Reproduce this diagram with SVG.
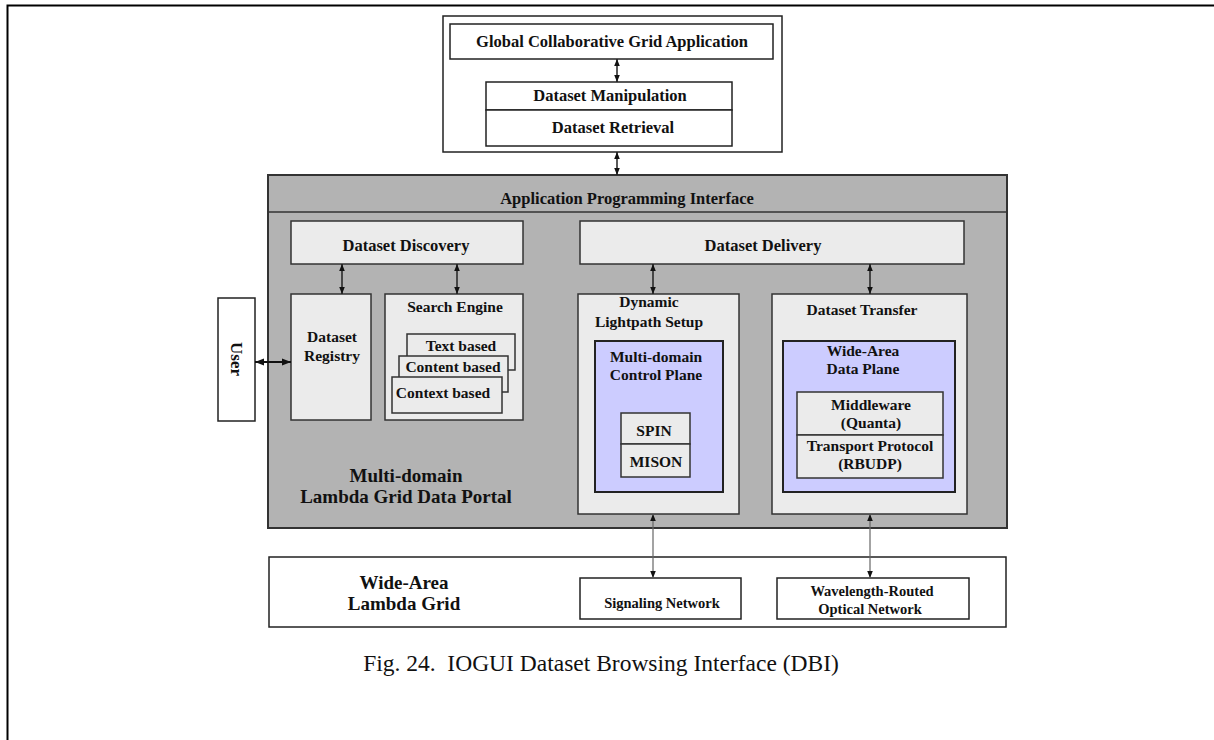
<svg xmlns="http://www.w3.org/2000/svg" width="1214" height="740" viewBox="0 0 1214 740">
<style>
.t{font-family:"Liberation Serif","Times New Roman",serif;font-weight:bold;fill:#111;text-anchor:middle}
.s16{font-size:16.5px}
.s15{font-size:15.5px}
.s14{font-size:14.5px}
.s19{font-size:19px}
.cap{font-family:"Liberation Serif","Times New Roman",serif;font-size:23.5px;fill:#111;text-anchor:middle}
.wbox{fill:#fff;stroke:#222;stroke-width:1.5}
.lbox{fill:#ebebeb;stroke:#333;stroke-width:1.5}
.pbox{fill:#ccccff;stroke:#222;stroke-width:2}
.gbox{fill:#b3b3b3;stroke:#333;stroke-width:2}
.arr{stroke:#222;stroke-width:1.5;fill:none;marker-start:url(#ah);marker-end:url(#ah)}
.arrl{stroke:#666;stroke-width:1.2;fill:none;marker-start:url(#ah);marker-end:url(#ah)}
.arrb{stroke:#111;stroke-width:2.2;fill:none;marker-start:url(#ahb);marker-end:url(#ahb)}
</style>
<defs>
<marker id="ah" viewBox="0 0 10 10" refX="10" refY="5" markerWidth="7" markerHeight="7" orient="auto-start-reverse" markerUnits="userSpaceOnUse"><path d="M0,1 L10,5 L0,9 z" fill="#111"/></marker>
<marker id="ahb" viewBox="0 0 10 10" refX="10" refY="5" markerWidth="9" markerHeight="9" orient="auto-start-reverse" markerUnits="userSpaceOnUse"><path d="M0,1 L10,5 L0,9 z" fill="#111"/></marker>
</defs>
<rect width="1214" height="740" fill="#fff"/>
<path d="M7.5,740 V5.5 H1214" fill="none" stroke="#000" stroke-width="2"/>

<g id="app-frame"><rect class="wbox" x="443" y="16" width="339" height="136" stroke-width="2"/></g>
<g id="global-app"><rect class="wbox" x="450" y="24" width="323" height="35"/><text class="t s16" x="612" y="47">Global Collaborative Grid Application</text></g>
<g id="dataset-manipulation"><rect class="wbox" x="486" y="82" width="246" height="28"/><text class="t s16" x="610" y="101">Dataset Manipulation</text></g>
<g id="dataset-retrieval"><rect class="wbox" x="486" y="110" width="246" height="36"/><text class="t s16" x="613" y="133">Dataset Retrieval</text></g>

<g id="portal"><rect class="gbox" x="268" y="175" width="739" height="353"/><line x1="268" y1="212" x2="1007" y2="212" stroke="#333" stroke-width="1.5"/>
<text class="t s16" x="627" y="204">Application Programming Interface</text>
<text class="t s19" x="406" y="482">Multi-domain</text><text class="t s19" x="406" y="503">Lambda Grid Data Portal</text></g>

<g id="dataset-discovery"><rect class="lbox" x="291" y="221" width="232" height="43"/><text class="t s16" x="406" y="251">Dataset Discovery</text></g>
<g id="dataset-delivery"><rect class="lbox" x="580" y="221" width="384" height="43"/><text class="t s16" x="763" y="251">Dataset Delivery</text></g>

<g id="dataset-registry"><rect class="lbox" x="291" y="294" width="80" height="126"/><text class="t s15" x="332" y="342">Dataset</text><text class="t s15" x="332" y="361">Registry</text></g>
<g id="search-engine"><rect class="lbox" x="385" y="294" width="138" height="126"/><text class="t s15" x="455" y="312">Search Engine</text>
<rect class="lbox" x="407" y="334" width="108" height="36"/><text class="t s15" x="461" y="351">Text based</text>
<rect class="lbox" x="399" y="356" width="109" height="36"/><text class="t s15" x="453" y="372">Content based</text>
<rect class="lbox" x="392" y="377" width="110" height="36"/><text class="t s15" x="443" y="398">Context based</text></g>

<g id="user"><rect class="wbox" x="218" y="298" width="37" height="123" stroke-width="2"/><text class="t" style="font-size:17px" transform="translate(230.5,359) rotate(90)" x="0" y="0">User</text></g>

<g id="lightpath-setup"><rect class="lbox" x="578" y="294" width="161" height="220"/><text class="t s15" x="649" y="307">Dynamic</text><text class="t s15" x="649" y="327">Lightpath Setup</text>
<rect class="pbox" x="595" y="341" width="128" height="151"/><text class="t s15" x="656" y="362">Multi-domain</text><text class="t s15" x="656" y="380">Control Plane</text>
<rect class="lbox" x="621" y="413" width="69" height="31" stroke="#222" stroke-width="2"/><text class="t s15" x="654" y="436">SPIN</text>
<rect class="lbox" x="621" y="444" width="69" height="33" stroke="#222" stroke-width="2"/><text class="t s15" x="656" y="467">MISON</text></g>

<g id="dataset-transfer"><rect class="lbox" x="772" y="294" width="195" height="220"/><text class="t s15" x="862" y="315">Dataset Transfer</text>
<rect class="pbox" x="783" y="341" width="172" height="151"/><text class="t s15" x="863" y="356">Wide-Area</text><text class="t s15" x="863" y="374">Data Plane</text>
<rect class="lbox" x="797" y="392" width="146" height="43" stroke="#222" stroke-width="2"/><text class="t s15" x="871" y="410">Middleware</text><text class="t s15" x="871" y="428">(Quanta)</text>
<rect class="lbox" x="797" y="435" width="146" height="43" stroke="#222" stroke-width="2"/><text class="t s15" x="870" y="451">Transport Protocol</text><text class="t s15" x="870" y="469">(RBUDP)</text></g>

<g id="lambda-grid"><rect class="wbox" x="269" y="557" width="737" height="70" stroke-width="2"/><text class="t s19" x="404" y="589">Wide-Area</text><text class="t s19" x="404" y="610">Lambda Grid</text></g>
<g id="signaling-network"><rect class="wbox" x="580" y="578" width="161" height="41"/><text class="t s14" x="662" y="608">Signaling Network</text></g>
<g id="optical-network"><rect class="wbox" x="777" y="578" width="192" height="41"/><text class="t s14" x="872" y="596">Wavelength-Routed</text><text class="t s14" x="870" y="614">Optical Network</text></g>

<g id="connectors">
<line class="arr" x1="617" y1="59" x2="617" y2="82"/>
<line class="arr" x1="617" y1="152" x2="617" y2="175"/>
<line class="arr" x1="342" y1="264" x2="342" y2="294"/>
<line class="arr" x1="457" y1="264" x2="457" y2="294"/>
<line class="arr" x1="653" y1="264" x2="653" y2="294"/>
<line class="arr" x1="870" y1="264" x2="870" y2="294"/>
<line class="arrb" x1="255" y1="362" x2="291" y2="362"/>
<line class="arrl" x1="653" y1="514" x2="653" y2="578"/>
<line class="arrl" x1="870" y1="514" x2="870" y2="578"/>
</g>

<text class="cap" x="601" y="671" xml:space="preserve">Fig. 24.  IOGUI Dataset Browsing Interface (DBI)</text>
</svg>
